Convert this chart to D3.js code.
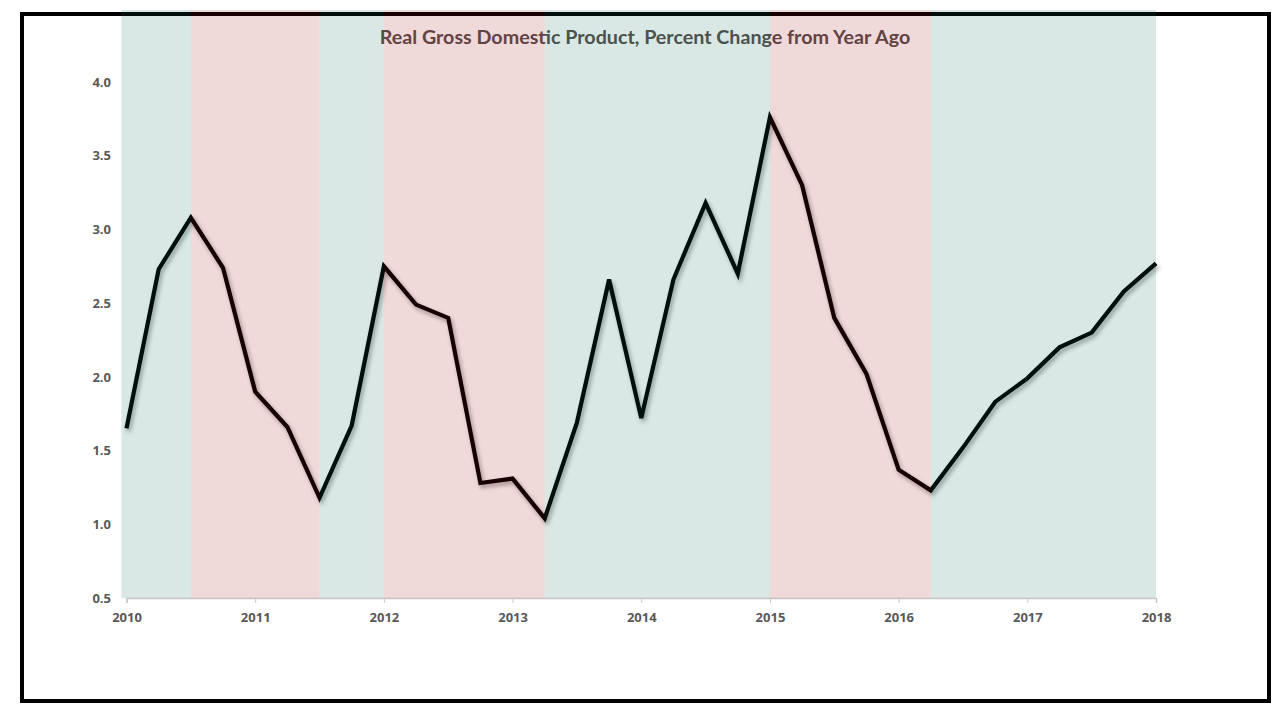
<!DOCTYPE html>
<html>
<head>
<meta charset="utf-8">
<script src="https://cdn.jsdelivr.net/npm/d3@7"></script>
<style>
  html, body { margin: 0; padding: 0; background: #fff; }
  svg { display: block; }
  text { font-family: Lato, "Open Sans", sans-serif; font-weight: bold; }
</style>
</head>
<body>
<svg id="chart" width="1286" height="715"></svg>
<script>
// ---- data ----
const title = "Real Gross Domestic Product, Percent Change from Year Ago";
const quarters = [
  "2010Q1","2010Q2","2010Q3","2010Q4",
  "2011Q1","2011Q2","2011Q3","2011Q4",
  "2012Q1","2012Q2","2012Q3","2012Q4",
  "2013Q1","2013Q2","2013Q3","2013Q4",
  "2014Q1","2014Q2","2014Q3","2014Q4",
  "2015Q1","2015Q2","2015Q3","2015Q4",
  "2016Q1","2016Q2","2016Q3","2016Q4",
  "2017Q1","2017Q2","2017Q3","2017Q4",
  "2018Q1"
];
const gdpChange = [
  1.65, 2.73, 3.08, 2.74,
  1.90, 1.66, 1.18, 1.67,
  2.75, 2.49, 2.40, 1.28,
  1.31, 1.04, 1.69, 2.66,
  1.72, 2.66, 3.18, 2.70,
  3.76, 3.30, 2.40, 2.02,
  1.37, 1.23, 1.52, 1.83,
  1.99, 2.20, 2.30, 2.58,
  2.77
];
const bandStarts = [2009.96, 2010.5, 2011.5, 2012.0, 2013.25, 2015.0, 2016.25];
const bandEnds   = [2010.5, 2011.5, 2012.0, 2013.25, 2015.0, 2016.25, 2018.0];
const bandTypes  = ["up", "down", "up", "down", "up", "down", "up"];
const yTicks = [0.5, 1.0, 1.5, 2.0, 2.5, 3.0, 3.5, 4.0];
const xTicks = [2010, 2011, 2012, 2013, 2014, 2015, 2016, 2017, 2018];

// ---- layout ----
const svg = d3.select("#chart");
const x = d3.scaleLinear().domain([2010, 2018]).range([126.5, 1156]);
const y = d3.scaleLinear().domain([0.5, 4.0]).range([598, 82]);
const bandTop = 10;
const bandColor = { up: "rgb(2,102,75)", down: "rgb(155,0,0)" };
const labelFont = "'Open Sans', Lato, sans-serif";

const qToYear = q => +q.slice(0, 4) + (+q.slice(5) - 1) / 4;
const points = quarters.map((q, i) => ({ t: qToYear(q), v: gdpChange[i] }));

// frame
svg.append("rect")
  .attr("x", 22).attr("y", 14).attr("width", 1247).attr("height", 687)
  .attr("fill", "none").attr("stroke", "#000").attr("stroke-width", 4);

// defs: drop shadow
const defs = svg.append("defs");
const f = defs.append("filter").attr("id", "shadow")
  .attr("x", "-5%").attr("y", "-5%").attr("width", "110%").attr("height", "120%");
f.append("feDropShadow").attr("dx", 2).attr("dy", 3).attr("stdDeviation", 2)
  .attr("flood-color", "#000").attr("flood-opacity", 0.35);

// x axis
const xAxis = d3.axisBottom(x).tickValues(xTicks).tickFormat(d3.format("d"))
  .tickSize(5).tickPadding(10);
const gx = svg.append("g").attr("transform", "translate(0,598)").call(xAxis);
gx.select(".domain").attr("stroke", "#c8c8c8").attr("stroke-width", 1.5);
gx.selectAll(".tick line").attr("stroke", "#c8c8c8");
gx.selectAll(".tick text").attr("fill", "#595959").style("font-size", "13px")
  .style("font-family", labelFont).style("font-weight", "bold");

// y axis (labels only)
const yAxis = d3.axisLeft(y).tickValues(yTicks).tickFormat(d3.format(".1f"))
  .tickSize(0).tickPadding(0);
const gy = svg.append("g").attr("transform", "translate(111,0)").call(yAxis);
gy.select(".domain").remove();
gy.selectAll(".tick text").attr("fill", "#595959").style("font-size", "13px")
  .style("font-family", labelFont).style("font-weight", "bold");

// line
const line = d3.line().x(d => x(d.t)).y(d => y(d.v));
svg.append("path").datum(points)
  .attr("d", line)
  .attr("fill", "none").attr("stroke", "#000").attr("stroke-width", 4.2)
  .attr("stroke-linejoin", "miter").attr("filter", "url(#shadow)");

// title
const tt = svg.append("text").text(title)
  .attr("x", 645).attr("y", 44).attr("text-anchor", "middle")
  .attr("fill", "#594f4f").style("font-size", "18px");
const w = tt.node().getComputedTextLength();
tt.style("font-size", (18 * 531 / w).toFixed(2) + "px");

// bands (semi-transparent overlay)
svg.append("g").selectAll("rect").data(bandStarts)
  .join("rect")
  .attr("x", (d, i) => x(d))
  .attr("width", (d, i) => x(bandEnds[i]) - x(d))
  .attr("y", bandTop)
  .attr("height", y(0.5) - bandTop)
  .attr("fill", (d, i) => bandColor[bandTypes[i]])
  .attr("fill-opacity", 0.15);
</script>
</body>
</html>
